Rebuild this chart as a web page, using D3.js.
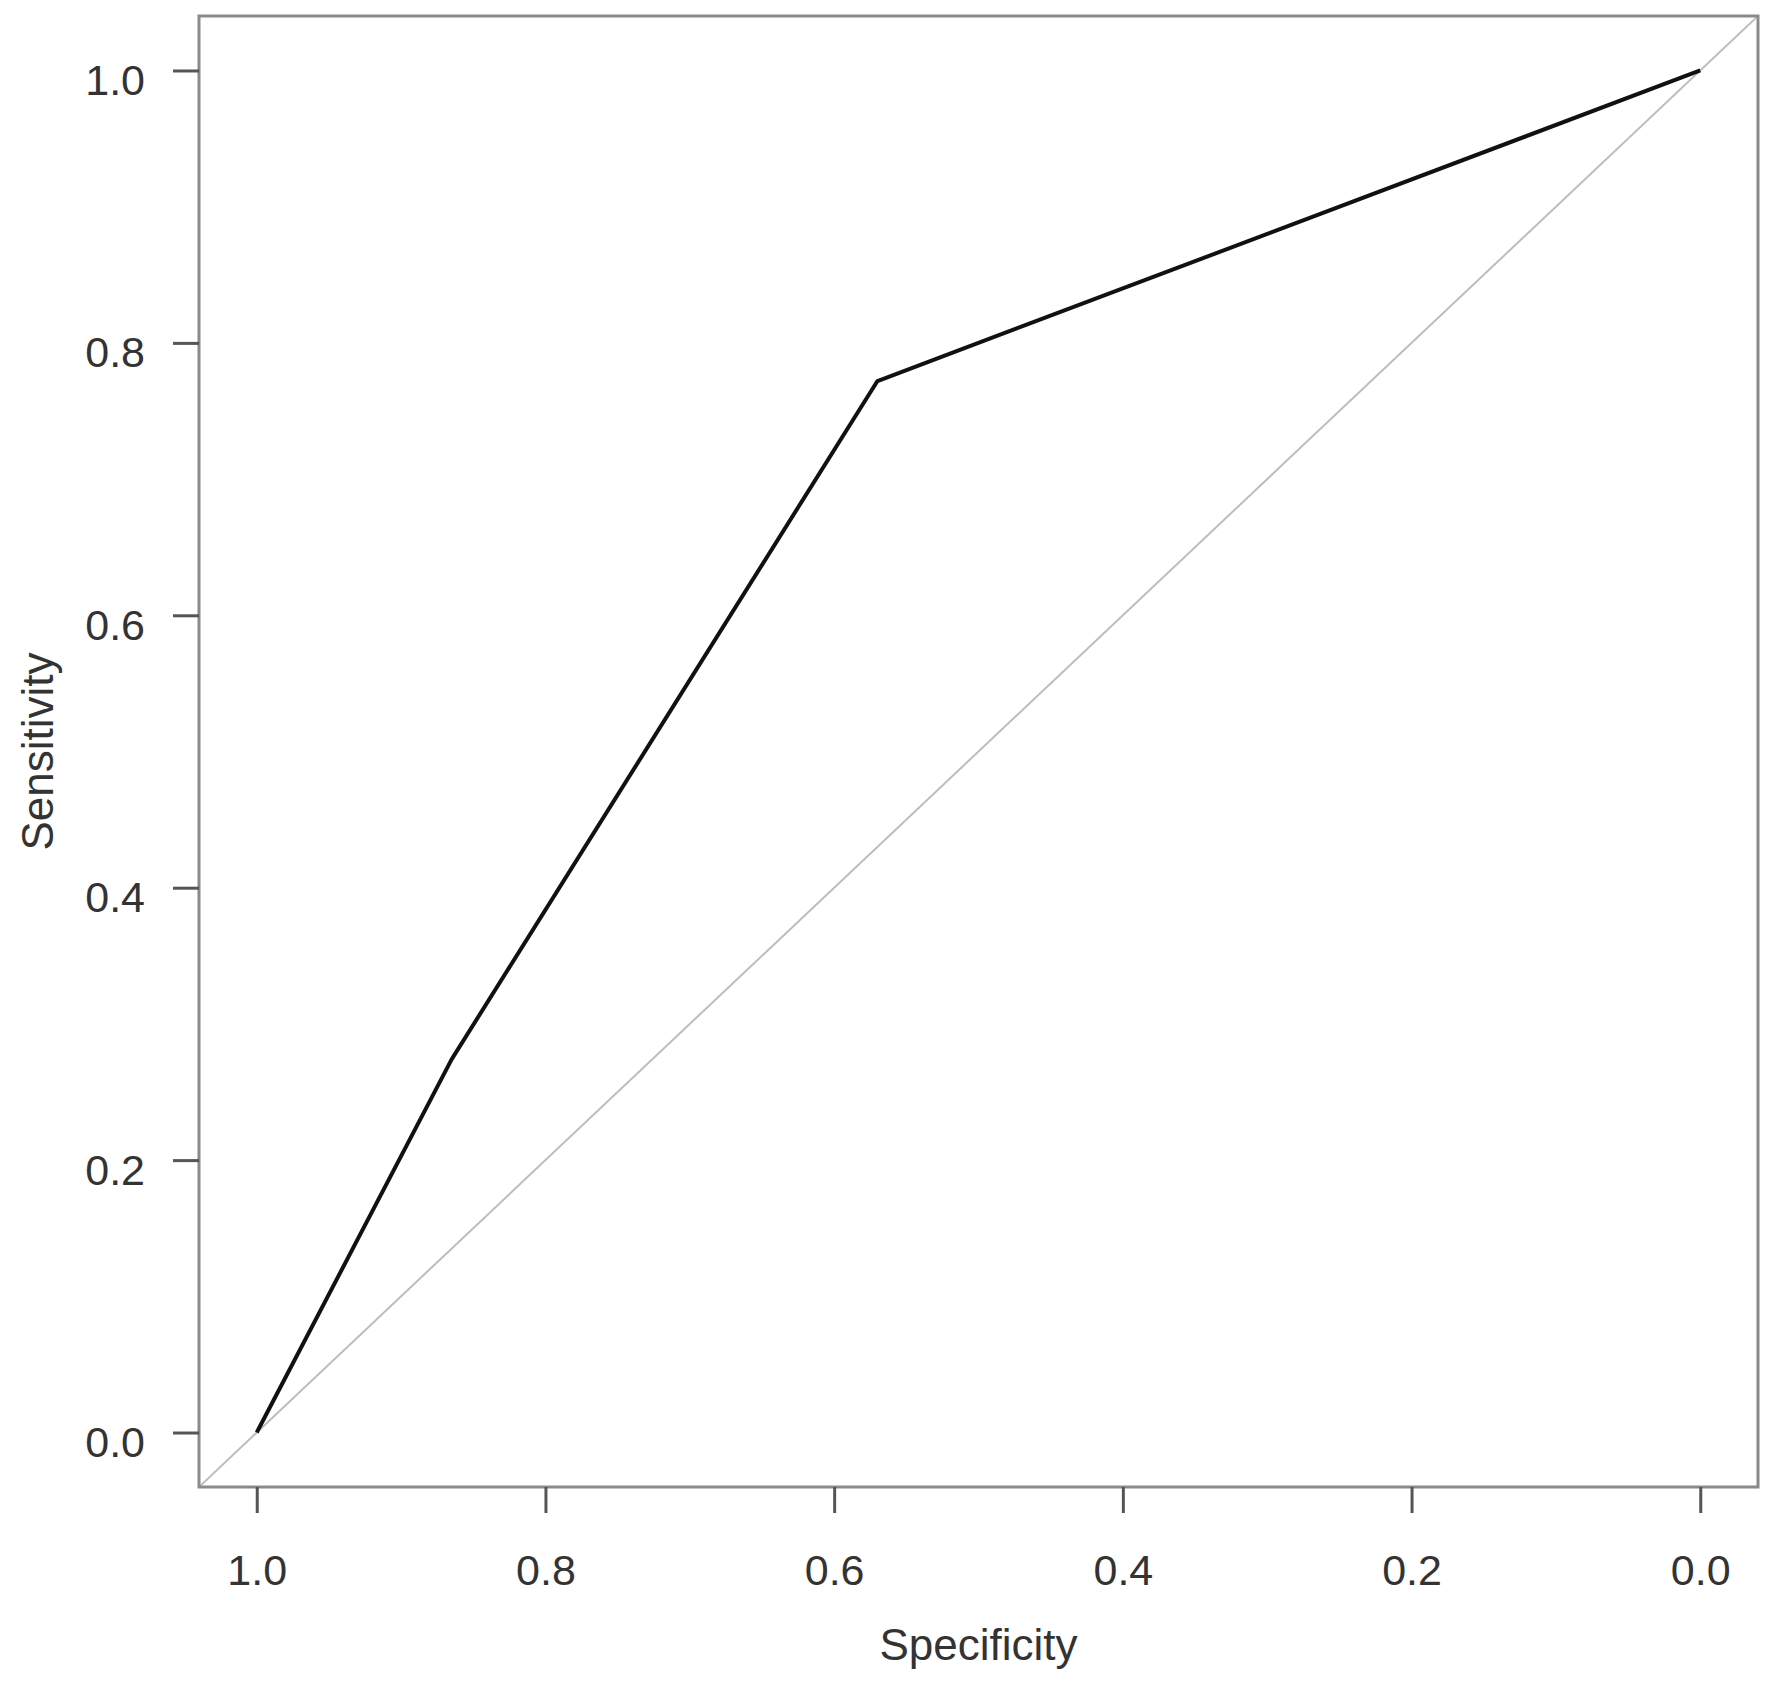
<!DOCTYPE html>
<html>
<head>
<meta charset="utf-8">
<script src="https://cdn.jsdelivr.net/npm/d3@7"></script>
<style>
  html, body { margin: 0; padding: 0; background: #fff; }
  svg { display: block; }
  text { font-family: "Liberation Sans", Arial, sans-serif; fill: #333; }
</style>
</head>
<body>
<svg id="chart" width="1772" height="1683"></svg>
<script>
// Data
const specificity = [1.0, 0.865, 0.57, 0.0];
const sensitivity = [0.0, 0.274, 0.772, 1.0];
const xTicks = [1.0, 0.8, 0.6, 0.4, 0.2, 0.0];
const yTicks = [0.0, 0.2, 0.4, 0.6, 0.8, 1.0];
const xTitle = "Specificity";
const yTitle = "Sensitivity";

const svg = d3.select("#chart");
const box = { left: 199, right: 1758, top: 16, bottom: 1487 };

const x = d3.scaleLinear().domain([1.04, -0.04]).range([box.left, box.right]);
const y = d3.scaleLinear().domain([-0.04, 1.04]).range([box.bottom, box.top]);

svg.append("defs").append("clipPath").attr("id", "clip")
  .append("rect")
  .attr("x", box.left).attr("y", box.top)
  .attr("width", box.right - box.left).attr("height", box.bottom - box.top);

// diagonal reference line
const diag = [1.04, -0.04];
svg.append("line")
  .attr("clip-path", "url(#clip)")
  .attr("x1", x(diag[0])).attr("y1", y(1 - diag[0]))
  .attr("x2", x(diag[1])).attr("y2", y(1 - diag[1]))
  .attr("stroke", "#bdbdbd").attr("stroke-width", 2);

// ROC curve
const pts = specificity.map((s, i) => [s, sensitivity[i]]);
svg.append("path")
  .datum(pts)
  .attr("clip-path", "url(#clip)")
  .attr("d", d3.line().x(d => x(d[0])).y(d => y(d[1])))
  .attr("fill", "none").attr("stroke", "#111").attr("stroke-width", 4)
  .attr("stroke-linejoin", "round");

// box
svg.append("rect")
  .attr("x", box.left).attr("y", box.top)
  .attr("width", box.right - box.left).attr("height", box.bottom - box.top)
  .attr("fill", "none").attr("stroke", "#8a8a8a").attr("stroke-width", 3);

// x axis
const xAxis = d3.axisBottom(x).tickValues(xTicks).tickFormat(d3.format(".1f"))
  .tickSize(26).tickPadding(0);
const gx = svg.append("g").attr("transform", `translate(0,${box.bottom})`).call(xAxis);
gx.select(".domain").remove();
gx.selectAll(".tick line").attr("stroke", "#555").attr("stroke-width", 3);
gx.selectAll(".tick text")
  .attr("y", 98).attr("dy", null)
  .attr("font-size", 43)
  .style("fill", "#333");

// y axis
const yAxis = d3.axisLeft(y).tickValues(yTicks).tickFormat(d3.format(".1f"))
  .tickSize(26).tickPadding(0);
const gy = svg.append("g").attr("transform", `translate(${box.left},0)`).call(yAxis);
gy.select(".domain").remove();
gy.selectAll(".tick line").attr("stroke", "#555").attr("stroke-width", 3);
gy.selectAll(".tick text")
  .attr("x", -54).attr("dy", null).attr("y", 24)
  .attr("font-size", 43)
  .style("fill", "#333");

svg.selectAll(".tick text").attr("font-family", "Liberation Sans, Arial, sans-serif");

// titles
svg.append("text")
  .attr("x", (box.left + box.right) / 2).attr("y", 1660)
  .attr("text-anchor", "middle").attr("font-size", 44)
  .text(xTitle);

svg.append("text")
  .attr("transform", `translate(53,${(box.top + box.bottom) / 2}) rotate(-90)`)
  .attr("text-anchor", "middle").attr("font-size", 44)
  .text(yTitle);
</script>
</body>
</html>
